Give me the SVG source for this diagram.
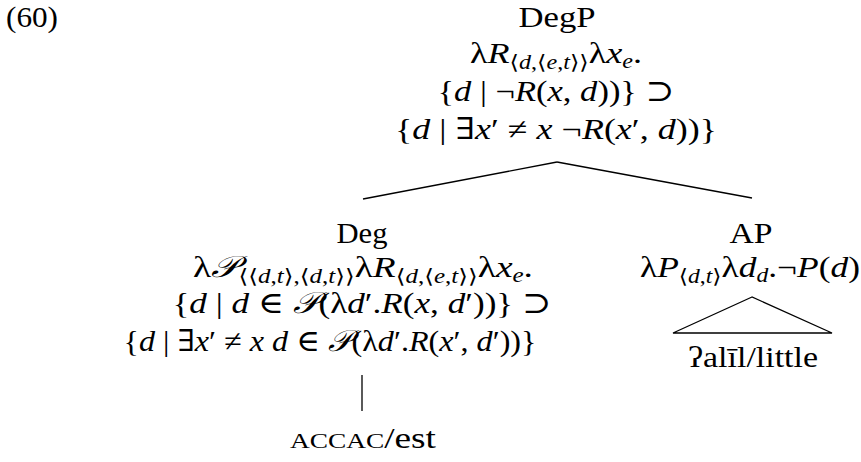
<svg xmlns="http://www.w3.org/2000/svg" width="861" height="462" viewBox="0 0 861 462">
<style>
text{font-family:"Liberation Serif","DejaVu Serif",serif;font-size:30px;fill:#000;text-anchor:middle}
.i{font-style:italic}
.s{font-size:20px}
.c{stroke:#000;stroke-width:1.3;fill:none}
</style>
<rect width="861" height="462" fill="#fff"/>
<text x="6" y="27" style="text-anchor:start" textLength="52" lengthAdjust="spacingAndGlyphs">(60)</text>
<g id="degp">
<text x="557" y="27" textLength="77" lengthAdjust="spacingAndGlyphs">DegP</text>
<text x="556" y="63" textLength="172" lengthAdjust="spacingAndGlyphs">λ<tspan class="i">R</tspan><tspan class="s" dy="6">⟨<tspan class="i">d</tspan>,⟨<tspan class="i">e</tspan>,<tspan class="i">t</tspan>⟩⟩</tspan><tspan dy="-6">λ</tspan><tspan class="i">x</tspan><tspan class="s i" dy="5">e</tspan><tspan dy="-5">.</tspan></text>
<text x="556" y="101" textLength="237" lengthAdjust="spacingAndGlyphs">{<tspan class="i">d</tspan> | ¬<tspan class="i">R</tspan>(<tspan class="i">x</tspan>, <tspan class="i">d</tspan>))} ⊃</text>
<text x="556" y="139" textLength="322" lengthAdjust="spacingAndGlyphs">{<tspan class="i">d</tspan> | ∃<tspan class="i">x</tspan>′ ≠ <tspan class="i">x</tspan> ¬<tspan class="i">R</tspan>(<tspan class="i">x</tspan>′, <tspan class="i">d</tspan>))}</text>
</g>
<g id="deg">
<text x="362" y="243" textLength="51" lengthAdjust="spacingAndGlyphs">Deg</text>
<text x="363" y="277" textLength="340" lengthAdjust="spacingAndGlyphs">λ<tspan class="i">𝒫</tspan><tspan class="s" dy="6">⟨⟨<tspan class="i">d</tspan>,<tspan class="i">t</tspan>⟩,⟨<tspan class="i">d</tspan>,<tspan class="i">t</tspan>⟩⟩</tspan><tspan dy="-6">λ</tspan><tspan class="i">R</tspan><tspan class="s" dy="6">⟨<tspan class="i">d</tspan>,⟨<tspan class="i">e</tspan>,<tspan class="i">t</tspan>⟩⟩</tspan><tspan dy="-6">λ</tspan><tspan class="i">x</tspan><tspan class="s i" dy="5">e</tspan><tspan dy="-5">.</tspan></text>
<text x="362" y="313" textLength="379" lengthAdjust="spacingAndGlyphs">{<tspan class="i">d</tspan> | <tspan class="i">d</tspan> ∈ <tspan class="i">𝒫</tspan>(λ<tspan class="i">d</tspan>′.<tspan class="i">R</tspan>(<tspan class="i">x</tspan>, <tspan class="i">d</tspan>′))} ⊃</text>
<text x="330" y="351" textLength="413" lengthAdjust="spacingAndGlyphs">{<tspan class="i">d</tspan> | ∃<tspan class="i">x</tspan>′ ≠ <tspan class="i">x</tspan> <tspan class="i">d</tspan> ∈ <tspan class="i">𝒫</tspan>(λ<tspan class="i">d</tspan>′.<tspan class="i">R</tspan>(<tspan class="i">x</tspan>′, <tspan class="i">d</tspan>′))}</text>
</g>
<g id="ap">
<text x="751" y="243" textLength="43" lengthAdjust="spacingAndGlyphs">AP</text>
<text x="750" y="277" textLength="220" lengthAdjust="spacingAndGlyphs">λ<tspan class="i">P</tspan><tspan class="s" dy="6">⟨<tspan class="i">d</tspan>,<tspan class="i">t</tspan>⟩</tspan><tspan dy="-6">λ</tspan><tspan class="i">d</tspan><tspan class="s i" dy="5">d</tspan><tspan dy="-5">.¬</tspan><tspan class="i">P</tspan>(<tspan class="i">d</tspan>)</text>
</g>
<g id="accac">
<text x="363" y="448" textLength="146" lengthAdjust="spacingAndGlyphs"><tspan style="font-size:22px">ACCAC</tspan>/est</text>
</g>
<g id="alil">
<text x="753" y="367" textLength="130" lengthAdjust="spacingAndGlyphs">ʔalīl/little</text>
</g>
<g id="connectors">
<line class="c" x1="557" y1="162" x2="363" y2="199"/>
<line class="c" x1="557" y1="162" x2="752" y2="198"/>
<line class="c" x1="362" y1="375" x2="362" y2="411"/>
<polygon class="c" points="752,297 673,333 832,333"/>
</g>
</svg>
